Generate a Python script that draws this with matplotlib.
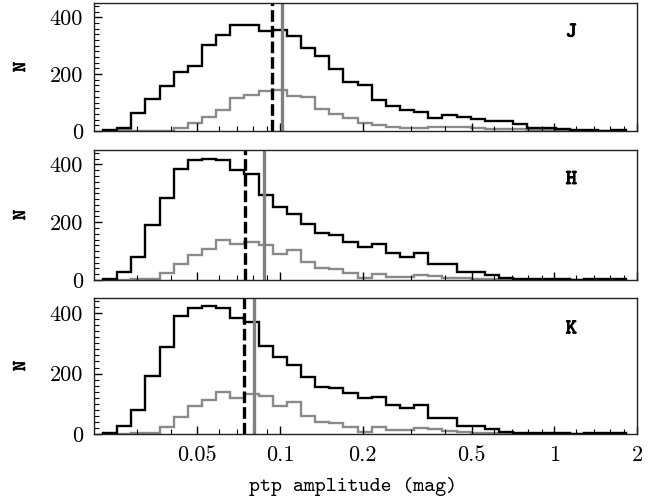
import numpy as np
import matplotlib
matplotlib.use('Agg')
import matplotlib.pyplot as plt
import matplotlib.patheffects as pe
from matplotlib.ticker import FixedLocator, MultipleLocator, NullFormatter

# log10 bin range of the amplitude histograms (37 bins)
log_lo, log_hi, nbins = -1.645, 0.262, 37

# counts per bin: whole sample (black) and sub-sample (grey)
j_all = [4, 12, 64, 114, 159, 206, 228, 301, 336, 374, 374, 353, 356, 334, 293, 264, 218, 174,
         160, 110, 87, 73, 67, 44, 58, 48, 42, 36, 36, 24, 12, 9, 6, 3, 3, 1, 3]
j_sub = [0, 3, 0, 0, 0, 9, 27, 50, 73, 116, 128, 140, 143, 122, 119, 79, 61, 44,
         29, 21, 15, 12, 12, 15, 15, 13, 9, 7, 6, 6, 5, 3, 2, 1, 0, 1, 0]
h_all = [3, 29, 80, 190, 285, 385, 414, 419, 414, 381, 368, 293, 253, 230, 195, 161, 155, 132,
         115, 123, 95, 80, 95, 57, 57, 29, 29, 17, 6, 3, 2, 2, 2, 0, 2, 2, 2]
h_sub = [0, 0, 5, 5, 23, 57, 86, 109, 138, 123, 132, 121, 89, 103, 63, 40, 37, 25,
         8, 20, 11, 11, 17, 14, 8, 6, 5, 3, 2, 1, 1, 0, 0, 0, 0, 0, 0]
k_all = [2, 27, 80, 192, 287, 391, 417, 424, 417, 383, 372, 290, 256, 229, 188, 157, 151, 136,
         118, 124, 96, 85, 96, 54, 54, 27, 27, 17, 7, 4, 2, 2, 2, 0, 2, 2, 2]
k_sub = [0, 0, 4, 4, 24, 57, 91, 113, 140, 118, 133, 126, 91, 107, 60, 41, 38, 24,
         8, 22, 13, 13, 21, 15, 11, 6, 4, 3, 2, 1, 1, 0, 0, 0, 0, 0, 0]

# medians: dashed = whole sample, grey = sub-sample
med_all = [0.0937, 0.0748, 0.0738]
med_sub = [0.102, 0.0872, 0.0803]

bands = ['J', 'H', 'K']
x_ticks = [0.05, 0.1, 0.2, 0.5, 1, 2]
x_ticklabels = ['0.05', '0.1', '0.2', '0.5', '1', '2']
y_ticks = [0, 200, 400]

edges = 10 ** np.linspace(log_lo, log_hi, nbins + 1)
grey = '#8a8a8a'

fig = plt.figure(figsize=(6.63, 4.99), dpi=100)
W, H = 663, 499
# panel boxes in pixels: (top, bottom)
boxes = [(3, 131), (150, 280), (298, 434)]
left, right = 94, 637

minor_x = [0.03, 0.04, 0.06, 0.07, 0.08, 0.09, 0.3, 0.4, 0.6, 0.7, 0.8, 0.9,
           1.2, 1.4, 1.6, 1.8]

data = [(j_all, j_sub), (h_all, h_sub), (k_all, k_sub)]

for i, (top, bot) in enumerate(boxes):
    ax = fig.add_axes([left / W, 1 - bot / H, (right - left) / W, (bot - top) / H])
    all_c, sub_c = data[i]
    ax.stairs(sub_c, edges, color=grey, lw=1.7)
    ax.stairs(all_c, edges, color='black', lw=1.7)
    ax.axvline(med_all[i], color='black', lw=2.4, dashes=(3.5, 1.2))
    ax.axvline(med_sub[i], color='#808080', lw=2.4)

    ax.set_xscale('log')
    ax.set_xlim(0.0210, 2.0)
    ax.set_ylim(0, 450)

    ax.xaxis.set_major_locator(FixedLocator(x_ticks))
    ax.xaxis.set_minor_locator(FixedLocator(minor_x))
    ax.xaxis.set_minor_formatter(NullFormatter())
    ax.yaxis.set_major_locator(FixedLocator(y_ticks))
    ax.yaxis.set_minor_locator(MultipleLocator(20))

    ax.tick_params(which='both', direction='in', top=False, right=False)
    ax.tick_params(which='major', length=6, width=1)
    ax.tick_params(which='minor', length=3.5, width=0.8)
    ax.tick_params(axis='y', pad=8)
    ax.tick_params(axis='x', pad=8)

    ax.set_yticks(y_ticks)
    ax.set_yticklabels([str(v) for v in y_ticks], family='cmr10', fontsize=16)
    if i == 2:
        ax.set_xticks(x_ticks)
        ax.set_xticklabels(x_ticklabels, family='cmr10', fontsize=16)
    else:
        ax.set_xticklabels([])

    for sp in ax.spines.values():
        sp.set_linewidth(1.0)
        sp.set_color('#222222')

    ax.text(0.879, 0.77, bands[i], transform=ax.transAxes, family='cmtt10',
            fontsize=15, ha='center', va='center',
            path_effects=[pe.withStroke(linewidth=0.8, foreground='black')])
    fig.text(21 / W, 1 - ((top + bot) / 2) / H, 'N', family='cmtt10', fontsize=14,
             rotation=90, ha='center', va='center',
             path_effects=[pe.withStroke(linewidth=0.5, foreground='black')])

fig.text(353 / W, 1 - 487 / H, 'ptp amplitude (mag)', family='cmtt10', fontsize=15,
         ha='center', va='center')

fig.savefig('out.png', dpi=100)
